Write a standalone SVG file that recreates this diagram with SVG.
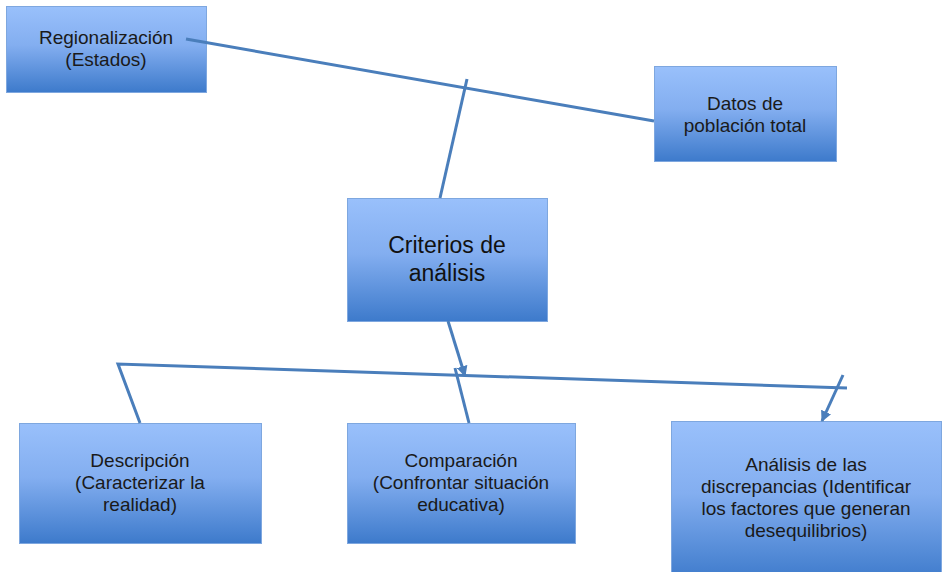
<svg xmlns="http://www.w3.org/2000/svg" width="944" height="572" viewBox="0 0 944 572">
<style>
.box{fill:url(#g);stroke:#7ea7df;stroke-width:1}
.t{font-family:"Liberation Sans",Arial,sans-serif;font-size:19px;fill:#1a1a1a;text-anchor:middle}
.tb{font-family:"Liberation Sans",Arial,sans-serif;font-size:23px;fill:#111;text-anchor:middle}
.c{fill:none;stroke:#4a7ebb;stroke-width:3;stroke-linecap:butt;stroke-linejoin:miter}
</style>
<defs>
<linearGradient id="g" x1="0" y1="0" x2="0" y2="1">
<stop offset="0" stop-color="#99c0fb"/>
<stop offset="0.45" stop-color="#83aef0"/>
<stop offset="1" stop-color="#3d7acb"/>
</linearGradient>
<marker id="a" viewBox="0 0 10 10" refX="9" refY="5" markerWidth="11" markerHeight="11" markerUnits="userSpaceOnUse" orient="auto">
<path d="M0,0 L10,5 L0,10 z" fill="#4a7ebb"/>
</marker>
</defs>
<rect width="944" height="572" fill="#fff"/>
<g id="n-regionalizacion">
<rect class="box" x="6.5" y="6.5" width="200" height="86"/>
<text class="t" x="106" y="44">Regionalización</text>
<text class="t" x="106" y="66">(Estados)</text>
</g>
<g id="n-datos">
<rect class="box" x="654.5" y="66.5" width="182" height="95"/>
<text class="t" x="745" y="110">Datos de</text>
<text class="t" x="745" y="132">población total</text>
</g>
<g id="n-criterios">
<rect class="box" x="347.5" y="198.5" width="200" height="123"/>
<text class="tb" x="447" y="253">Criterios de</text>
<text class="tb" x="447" y="281">análisis</text>
</g>
<g id="n-descripcion">
<rect class="box" x="19.5" y="423.5" width="242" height="120"/>
<text class="t" x="140" y="467">Descripción</text>
<text class="t" x="140" y="489">(Caracterizar la</text>
<text class="t" x="140" y="511">realidad)</text>
</g>
<g id="n-comparacion">
<rect class="box" x="347.5" y="423.5" width="228" height="120"/>
<text class="t" x="461" y="467">Comparación</text>
<text class="t" x="461" y="489">(Confrontar situación</text>
<text class="t" x="461" y="511">educativa)</text>
</g>
<g id="n-analisis">
<rect class="box" x="671.5" y="421.5" width="270" height="160"/>
<text class="t" x="806" y="471">Análisis de las</text>
<text class="t" x="806" y="493">discrepancias (Identificar</text>
<text class="t" x="806" y="515">los factores que generan</text>
<text class="t" x="806" y="537">desequilibrios)</text>
</g>
<g id="connectors">
<line class="c" x1="186" y1="39" x2="654" y2="121"/>
<line class="c" x1="467" y1="79" x2="440" y2="198"/>
<line class="c" x1="448" y1="321" x2="465" y2="376" marker-end="url(#a)"/>
<polyline class="c" points="140,423 118,364 847,388"/>
<line class="c" x1="455" y1="368" x2="469" y2="423"/>
<line class="c" x1="843" y1="375" x2="822" y2="421" marker-end="url(#a)"/>
</g>
</svg>
